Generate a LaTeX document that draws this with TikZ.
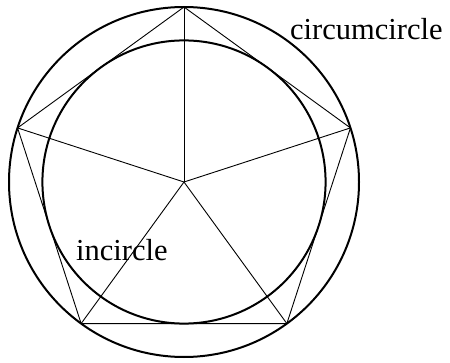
\documentclass[tikz,border=0pt]{standalone}
\usepackage{fontspec}
\setmainfont{Liberation Serif}
\usepackage{tikz}
\usetikzlibrary{calc, positioning}

\begin{document}
\begin{tikzpicture}[x=1pt, y=1pt]
    \tikzstyle{circ} = [draw, line width=2pt]
    \tikzstyle{edge} = [draw, line width=0.9pt]
    \tikzstyle{label} = [anchor=base west, inner sep=0pt, font=\fontsize{30.5}{33}\selectfont]

    \useasboundingbox (0,0) rectangle (450,362);

    \coordinate (centre) at (184,180);
    % pentagon corners on the circumcircle
    \foreach \i in {0,...,4} {
        \coordinate (p\i) at ($(centre)+({90+72*\i}:175)$);
    }

    \path [circ] (centre) circle (175);
    \path [circ] (centre) circle (141.58);

    \path [edge] (p0) -- (p1) -- (p2) -- (p3) -- (p4) -- cycle;
    \foreach \i in {0,...,4} {
        \path [edge] (centre) -- (p\i);
    }

    \node [label] (outer) at (290,322) {circumcircle};
    \node [label] (inner) at (76,102) {incircle};
\end{tikzpicture}
\end{document}
